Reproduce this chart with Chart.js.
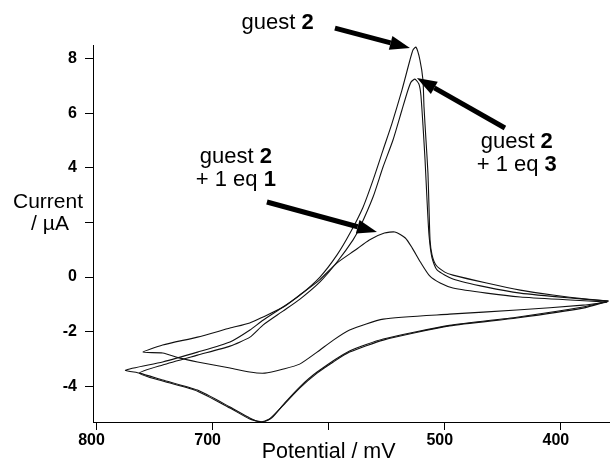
<!DOCTYPE html>
<html>
<head>
<meta charset="utf-8">
<script src="https://cdn.jsdelivr.net/npm/chart.js@4.4.1/dist/chart.umd.min.js"></script>
<style>
  body { margin: 0; background: #fff; }
</style>
</head>
<body>
<canvas id="cvChart" width="610" height="460"></canvas>
<script>
// axis ticks (labels for 600 mV and 2 uA are left blank, the axis titles sit there)
var potentialTicks = [800, 700, 600, 500, 400];
var potentialTickLabels = ['800', '700', '', '500', '400'];
var currentTicks = [-4, -2, 0, 2, 4, 6, 8];
var currentTickLabels = ['-4', '-2', '0', '', '4', '6', '8'];

// guest 2 (loop: upper sweep right->left, then lower sweep back)
var guest2Potential = [359, 378, 407, 435, 464, 493, 500, 507.6, 511, 512.7, 513.6, 514.5, 516.2, 517.9, 518.8, 521.4, 524.8, 527.4, 530, 536.9,
    545.4, 553.2, 561.8, 570.4, 581.6, 592.8, 607.5, 624.7, 639.4, 656.6, 667.8, 685, 713, 743, 775,
    763, 743, 713, 685, 668, 659, 651, 639, 625, 610, 596, 582, 553, 496, 438, 381, 359];
var guest2Current = [-0.88, -0.81, -0.66, -0.48, -0.22, 0.07, 0.18, 0.44, 0.81, 1.36, 2.56, 3.81, 5.02, 6.23, 7.22, 7.95, 8.42, 8.32, 7.95, 6.85,
    5.64, 4.65, 3.55, 2.56, 1.61, 0.81, 0.0, -0.66, -1.10, -1.58, -1.94, -2.38, -2.75, -3.11, -3.41,
    -3.52, -3.77, -4.14, -4.76, -5.16, -5.31, -5.20, -4.69, -4.07, -3.52, -3.11, -2.75, -2.31, -1.79, -1.50, -1.14, -0.88];

// guest 2 + 1 eq 3
var eq3Potential = [359, 392, 435, 464, 493, 506.7, 511, 513.6, 515.3, 517, 518.8, 520.6, 522.3, 525.7, 529.1, 531.7, 536.9, 544.6, 553.2, 561.8,
    573, 579, 592.8, 607.5, 624.7, 639.4, 656.6, 667.8, 685, 713, 743, 763,
    743, 713, 685, 668, 657, 649, 638, 625, 610, 582, 553, 496, 438, 381, 359];
var eq3Current = [-0.88, -0.77, -0.59, -0.37, -0.07, 0.26, 0.70, 1.54, 2.82, 4.29, 5.57, 6.67, 7.07, 7.25, 7.14, 6.85, 6.12, 5.02, 4.03, 2.93,
    1.83, 1.36, 0.55, -0.18, -0.81, -1.25, -1.76, -2.20, -2.53, -2.86, -3.22, -3.52,
    -3.81, -4.18, -4.80, -5.20, -5.31, -5.16, -4.62, -4.03, -3.48, -2.71, -2.27, -1.77, -1.47, -1.10, -0.88];

// guest 2 + 1 eq 1
var eq1Potential = [360, 392, 435, 464, 493, 504, 513, 521, 528, 534, 543, 552, 565, 577, 593, 608, 625, 639, 657, 668,
    685, 713, 743, 760, 743, 728, 713, 685, 668, 655, 639, 625, 610, 596, 582, 553, 496, 438, 381, 360];
var eq1Current = [-0.92, -0.84, -0.73, -0.59, -0.40, -0.22, 0.04, 0.55, 1.06, 1.43, 1.65, 1.61, 1.36, 0.99, 0.51, -0.11, -0.66, -1.10, -1.47, -1.68,
    -1.87, -2.20, -2.49, -2.75, -2.78, -2.97, -3.11, -3.33, -3.48, -3.52, -3.37, -3.19, -2.75, -2.31, -1.94, -1.54, -1.36, -1.21, -1.03, -0.92];

var FONT = '"Liberation Sans", Arial, Helvetica, sans-serif';

function toPoints(xs, ys) {
    return xs.map(function (x, i) { return { x: x, y: ys[i] }; });
}

// annotation labels: anchor = centre x / first baseline, in data units
var notes = [
    { x: 644, y: 9.08, lines: [[['guest ', false], ['2', true]]] },
    { x: 438, y: 4.73, lines: [[['guest ', false], ['2', true]], [['+ 1 eq ', false], ['3', true]]] },
    { x: 680, y: 4.18, lines: [[['guest ', false], ['2', true]], [['+ 1 eq ', false], ['1', true]]] }
];
var arrows = [
    { from: [594.6, 9.12], to: [530, 8.39] },
    { from: [448.2, 5.46], to: [524, 7.29] },
    { from: [653.2, 2.75], to: [558.4, 1.65] }
];

var annotatePlugin = {
    id: 'annotate',
    afterDraw: function (chart) {
        var ctx = chart.ctx;
        var xs = chart.scales.x, ys = chart.scales.y;
        ctx.save();
        ctx.fillStyle = '#000';
        ctx.strokeStyle = '#000';

        // text with bold numerals
        ctx.textBaseline = 'alphabetic';
        ctx.textAlign = 'left';
        notes.forEach(function (n) {
            var cx = xs.getPixelForValue(n.x);
            var by = ys.getPixelForValue(n.y);
            n.lines.forEach(function (parts, li) {
                var w = 0;
                parts.forEach(function (p) {
                    ctx.font = (p[1] ? 'bold ' : '') + '22px ' + FONT;
                    w += ctx.measureText(p[0]).width;
                });
                var x = cx - w / 2;
                parts.forEach(function (p) {
                    ctx.font = (p[1] ? 'bold ' : '') + '22px ' + FONT;
                    ctx.fillText(p[0], x, by + li * 23);
                    x += ctx.measureText(p[0]).width;
                });
            });
        });

        // arrows
        arrows.forEach(function (a) {
            var x0 = xs.getPixelForValue(a.from[0]), y0 = ys.getPixelForValue(a.from[1]);
            var x1 = xs.getPixelForValue(a.to[0]), y1 = ys.getPixelForValue(a.to[1]);
            var ang = Math.atan2(y1 - y0, x1 - x0);
            var hl = 20, hw = 7;
            var bx = x1 - hl * Math.cos(ang), by = y1 - hl * Math.sin(ang);
            ctx.lineWidth = 5;
            ctx.beginPath();
            ctx.moveTo(x0, y0);
            ctx.lineTo(bx, by);
            ctx.stroke();
            ctx.beginPath();
            ctx.moveTo(x1, y1);
            ctx.lineTo(bx + hw * Math.sin(ang), by - hw * Math.cos(ang));
            ctx.lineTo(bx - hw * Math.sin(ang), by + hw * Math.cos(ang));
            ctx.closePath();
            ctx.fill();
        });

        // axis titles
        ctx.font = '21px ' + FONT;
        ctx.textAlign = 'center';
        var y2 = ys.getPixelForValue(2);
        ctx.fillText('Current', 48, y2 - 14);
        ctx.fillText('/ \u00b5A', 50, y2 + 8);
        ctx.font = '21.5px ' + FONT;
        ctx.fillText('Potential / mV', xs.getPixelForValue(600), chart.chartArea.bottom + 36);
        ctx.restore();
    }
};

var ctx = document.getElementById('cvChart').getContext('2d');
new Chart(ctx, {
    type: 'line',
    data: {
        datasets: [
            { label: 'guest 2', data: toPoints(guest2Potential, guest2Current) },
            { label: 'guest 2 + 1 eq 3', data: toPoints(eq3Potential, eq3Current) },
            { label: 'guest 2 + 1 eq 1', data: toPoints(eq1Potential, eq1Current) }
        ]
    },
    options: {
        responsive: false,
        animation: false,
        layout: { padding: { top: 45, right: 0, left: 0, bottom: 0 } },
        elements: {
            line: { borderColor: '#111', borderWidth: 1.1, tension: 0.2, fill: false },
            point: { radius: 0 }
        },
        plugins: {
            legend: { display: false },
            tooltip: { enabled: false }
        },
        scales: {
            x: {
                type: 'linear',
                reverse: true,
                min: 357.7,
                max: 803,
                afterBuildTicks: function (scale) {
                    scale.ticks = potentialTicks.map(function (v) { return { value: v }; });
                },
                afterFit: function (scale) { scale.height = 38; },
                border: { display: true, color: '#000', width: 1 },
                grid: { drawOnChartArea: false, drawTicks: true, tickLength: 8, tickColor: '#000' },
                ticks: {
                    color: '#000',
                    padding: 1,
                    labelOffset: -5,
                    maxRotation: 0,
                    autoSkip: false,
                    font: { family: FONT, size: 16, weight: 'bold' },
                    callback: function (v, i) { return potentialTickLabels[i]; }
                }
            },
            y: {
                min: -5.31,
                max: 8.5,
                afterBuildTicks: function (scale) {
                    scale.ticks = currentTicks.map(function (v) { return { value: v }; });
                },
                afterFit: function (scale) { scale.width = 93; },
                border: { display: true, color: '#000', width: 1 },
                grid: { drawOnChartArea: false, drawTicks: true, tickLength: 8, tickColor: '#000' },
                ticks: {
                    color: '#000',
                    padding: 8,
                    autoSkip: false,
                    font: { family: FONT, size: 16, weight: 'bold' },
                    callback: function (v, i) { return currentTickLabels[i]; }
                }
            }
        }
    },
    plugins: [annotatePlugin]
});
</script>
</body>
</html>
